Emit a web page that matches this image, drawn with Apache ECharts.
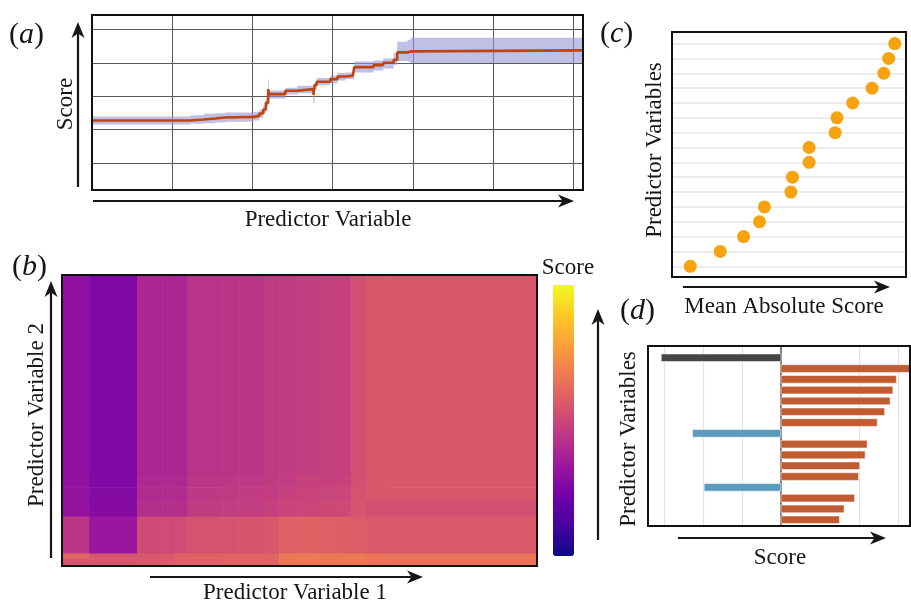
<!DOCTYPE html>
<html>
<head>
<meta charset="utf-8">
<script src="https://cdn.jsdelivr.net/npm/echarts@6/dist/echarts.min.js"></script>
<style>
html, body { margin: 0; padding: 0; background: #fff; }
#chart { width: 911px; height: 604px; }
</style>
</head>
<body>
<div id="chart"></div>
<script>
// (a) partial dependence curve: step positions, mean score, uncertainty band
const pdX  = [0, 1.227, 1.394, 1.537, 1.657, 2.015, 2.086, 2.134, 2.167, 2.196, 2.206, 2.41, 2.56, 2.76, 2.775, 2.80, 2.97, 3.06, 3.16, 3.25, 3.27, 3.51, 3.63, 3.76, 3.805, 3.934, 3.972, 6.12];
const pdY  = [2.08, 2.11, 2.14, 2.17, 2.19, 2.22, 2.29, 2.41, 2.61, 3.02, 2.87, 2.97, 3.02, 2.85, 3.14, 3.24, 3.32, 3.40, 3.42, 3.39, 3.68, 3.74, 3.81, 3.90, 4.12, 4.15, 4.18, 4.18];
const pdLo = [1.96, 1.98, 2.0, 2.02, 2.04, 2.08, 2.16, 2.30, 2.50, 2.70, 2.74, 2.86, 2.9, 2.6, 3.0, 3.14, 3.2, 3.28, 3.32, 3.3, 3.52, 3.58, 3.64, 3.74, 3.86, 3.84, 3.80, 3.80];
const pdHi = [2.2, 2.24, 2.28, 2.3, 2.32, 2.34, 2.4, 2.52, 2.74, 3.3, 2.98, 3.06, 3.12, 3.18, 3.2, 3.35, 3.42, 3.5, 3.52, 3.5, 3.85, 3.88, 3.94, 4.1, 4.44, 4.5, 4.56, 4.56];
const pdGridY = [0.81, 1.81, 2.81, 3.81, 4.81];

// (b) two-variable partial dependence: cell edges and scores (rows bottom-up)
const hmX = [0, 5.7, 15.8, 21.1, 23.8, 26.3, 33.7, 37.1, 42.5, 45.7, 49.5, 54.3, 58.5, 60.8, 64.0, 69.1, 100];
const hmY = [0, 2.7, 4.5, 17.2, 22.7, 27.1, 31.3, 100];
const hmVals = [
  [0.55, 0.55, 0.555, 0.565, 0.585, 0.585, 0.59, 0.59, 0.595, 0.66, 0.665, 0.66, 0.66, 0.665, 0.655, 0.645],
  [0.60, 0.55, 0.555, 0.565, 0.585, 0.585, 0.59, 0.59, 0.595, 0.66, 0.665, 0.66, 0.66, 0.665, 0.655, 0.645],
  [0.44, 0.33, 0.515, 0.515, 0.52, 0.54, 0.545, 0.55, 0.555, 0.585, 0.59, 0.585, 0.58, 0.575, 0.565, 0.565],
  [0.315, 0.275, 0.415, 0.415, 0.415, 0.46, 0.465, 0.47, 0.48, 0.49, 0.5, 0.505, 0.51, 0.545, 0.53, 0.53],
  [0.31, 0.27, 0.405, 0.405, 0.405, 0.45, 0.455, 0.46, 0.47, 0.48, 0.49, 0.495, 0.5, 0.54, 0.555, 0.555],
  [0.305, 0.265, 0.395, 0.395, 0.395, 0.44, 0.445, 0.45, 0.46, 0.47, 0.48, 0.48, 0.485, 0.535, 0.555, 0.555],
  [0.30, 0.26, 0.385, 0.385, 0.385, 0.43, 0.435, 0.44, 0.455, 0.46, 0.47, 0.475, 0.475, 0.53, 0.555, 0.555]
];

// (c) mean absolute score per predictor (bottom to top)
const impVals = [0.078, 0.206, 0.306, 0.374, 0.395, 0.508, 0.515, 0.586, 0.586, 0.697, 0.705, 0.772, 0.855, 0.905, 0.926, 0.952];

// (d) per-predictor score (top to bottom) and kind of bar
const shapVals = [-3.07, 3.4, 2.96, 2.87, 2.80, 2.66, 2.47, -2.27, 2.21, 2.16, 2.02, 1.99, -1.97, 1.89, 1.62, 1.50];
const shapKind = ['base', 'pos', 'pos', 'pos', 'pos', 'pos', 'pos', 'neg', 'pos', 'pos', 'pos', 'pos', 'neg', 'pos', 'pos', 'pos'];
const shapGridX = [-3, -2, -1, 2, 3];

const plasma = ['#0d0887', '#46039f', '#7201a8', '#9c179e', '#bd3786', '#d8576b', '#ed7953', '#fb9f3a', '#fdca26', '#f0f921'];
const kindColor = { base: '#454545', pos: '#c15b32', neg: '#5d9bbd' };
const FONT = '"Liberation Serif", "DejaVu Serif", serif';
const INK = '#161616';
const TS = 23;

const gA = { left: 92, top: 15, width: 491, height: 175 };
const gB = { left: 62, top: 275, width: 475, height: 291 };
const gC = { left: 672, top: 32, width: 234, height: 245 };
const gD = { left: 648, top: 346, width: 262, height: 180 };

const chart = echarts.init(document.getElementById('chart'));

function arrow(x1, y1, x2, y2) {
  const ang = Math.atan2(y2 - y1, x2 - x1);
  const L = 16, W = 6.5;
  const c = Math.cos(ang), s = Math.sin(ang);
  const bx = x2 - L * c, by = y2 - L * s;
  const nx = -s, ny = c;
  const notch = [x2 - 0.72 * L * c, y2 - 0.72 * L * s];
  return [
    { type: 'line', shape: { x1: x1, y1: y1, x2: notch[0], y2: notch[1] }, style: { stroke: INK, lineWidth: 2.2 }, z: 100 },
    { type: 'polygon', shape: { points: [[x2, y2], [bx + nx * W, by + ny * W], notch, [bx - nx * W, by - ny * W]] }, style: { fill: INK }, z: 100 }
  ];
}

function label(text, x, y, rot) {
  return {
    type: 'text', x: x, y: y, rotation: rot ? Math.PI / 2 : 0, z: 100,
    style: { text: text, fill: INK, font: TS + 'px ' + FONT, align: 'center', verticalAlign: 'middle' }
  };
}

function letter(ch, x, y) {
  return {
    type: 'text', x: x, y: y, z: 100,
    style: {
      text: '{p|(}{i|' + ch + '}{p|)}', align: 'left', verticalAlign: 'middle', fill: INK,
      rich: {
        p: { fontSize: 30, fontFamily: FONT, fill: INK },
        i: { fontSize: 30, fontFamily: FONT, fontStyle: 'italic', fill: INK }
      }
    }
  };
}

function frame(g) {
  return { type: 'rect', z: 100, shape: { x: g.left, y: g.top, width: g.width, height: g.height }, style: { fill: 'none', stroke: '#111', lineWidth: 2 } };
}

const hiddenAxis = { axisLine: { show: false }, axisTick: { show: false }, axisLabel: { show: false }, splitLine: { show: false } };

// heatmap cells
const hmData = [];
hmVals.forEach((row, r) => {
  row.forEach((v, c) => {
    hmData.push([hmX[c], hmX[c + 1], hmY[r], hmY[r + 1], v]);
  });
});

const option = {
  animation: false,
  backgroundColor: '#fff',
  grid: [
    Object.assign({ show: false }, gA),
    Object.assign({ show: false }, gB),
    Object.assign({ show: false }, gC),
    Object.assign({ show: false }, gD)
  ],
  xAxis: [
    Object.assign({}, hiddenAxis, { gridIndex: 0, type: 'value', min: 0, max: 6.12, interval: 1,
      splitLine: { show: true, lineStyle: { color: '#5a5a5a', width: 1 } } }),
    Object.assign({}, hiddenAxis, { gridIndex: 1, type: 'value', min: 0, max: 100 }),
    Object.assign({}, hiddenAxis, { gridIndex: 2, type: 'value', min: 0, max: 1 }),
    Object.assign({}, hiddenAxis, { gridIndex: 3, type: 'value', min: -3.41, max: 3.31 })
  ],
  yAxis: [
    Object.assign({}, hiddenAxis, { gridIndex: 0, type: 'value', min: 0, max: 5.24 }),
    Object.assign({}, hiddenAxis, { gridIndex: 1, type: 'value', min: 0, max: 100 }),
    Object.assign({}, hiddenAxis, { gridIndex: 2, type: 'value', min: 0.28, max: 16.78 }),
    Object.assign({}, hiddenAxis, { gridIndex: 3, type: 'value', min: -0.58, max: 16.09 })
  ],
  visualMap: {
    type: 'continuous',
    seriesIndex: 2,
    dimension: 4,
    min: 0,
    max: 1,
    calculable: false,
    hoverLink: false,
    left: 538,
    top: 270,
    itemWidth: 21,
    itemHeight: 271,
    inRange: { color: plasma }
  },
  series: [
    {
      // uncertainty band, drawn as one stepped polygon
      type: 'custom', xAxisIndex: 0, yAxisIndex: 0, silent: true, clip: true, z: 2,
      encode: { x: 0, y: [1, 2] },
      data: pdX.map((x, i) => [x, pdLo[i], pdHi[i]]),
      renderItem: function (params, api) {
        if (params.dataIndex !== 0) return null;
        const upper = [], lower = [];
        for (let i = 0; i < pdX.length - 1; i++) {
          upper.push(api.coord([pdX[i], pdHi[i]]), api.coord([pdX[i + 1], pdHi[i]]));
          lower.push(api.coord([pdX[i], pdLo[i]]), api.coord([pdX[i + 1], pdLo[i]]));
        }
        return {
          type: 'polygon',
          shape: { points: upper.concat(lower.reverse()) },
          style: { fill: 'rgba(150,150,215,0.6)' }
        };
      },
      markLine: {
        silent: true, symbol: 'none', z: 1, label: { show: false },
        lineStyle: { color: '#5a5a5a', width: 1, type: 'solid' },
        data: pdGridY.map(v => ({ yAxis: v }))
      }
    },
    {
      type: 'line', xAxisIndex: 0, yAxisIndex: 0, step: 'end', showSymbol: false, silent: true,
      data: pdX.map((x, i) => [x, pdY[i]]),
      lineStyle: { color: '#c1440e', width: 2.6 },
      z: 4
    },
    {
      type: 'custom', xAxisIndex: 1, yAxisIndex: 1, silent: true, clip: true,
      encode: { x: [0, 1], y: [2, 3] },
      data: hmData,
      renderItem: function (params, api) {
        const p0 = api.coord([api.value(0), api.value(3)]);
        const p1 = api.coord([api.value(1), api.value(2)]);
        return {
          type: 'rect',
          shape: { x: p0[0], y: p0[1], width: p1[0] - p0[0] + 0.6, height: p1[1] - p0[1] + 0.6 },
          style: { fill: api.visual('color') }
        };
      }
    },
    {
      type: 'scatter', xAxisIndex: 2, yAxisIndex: 2, silent: true,
      data: impVals.map((v, i) => [v, i + 1]),
      symbolSize: 13,
      itemStyle: { color: '#f7a20f', opacity: 1 },
      markLine: {
        silent: true, symbol: 'none', z: 1, label: { show: false },
        lineStyle: { color: '#ececec', width: 2, type: 'solid' },
        data: impVals.map((v, i) => ({ yAxis: i + 1 }))
      }
    },
    {
      type: 'custom', xAxisIndex: 3, yAxisIndex: 3, silent: true, clip: true,
      encode: { x: 0, y: 1 },
      data: shapVals.map((v, i) => [v, shapVals.length - 1 - i, i]),
      renderItem: function (params, api) {
        const v = api.value(0), r = api.value(1);
        const a = api.coord([0, r]);
        const b = api.coord([v, r]);
        const h = api.size([0, 0.71])[1];
        const kind = shapKind[api.value(2)];
        return {
          type: 'rect',
          shape: { x: Math.min(a[0], b[0]), y: a[1] - h / 2, width: Math.abs(b[0] - a[0]), height: h },
          style: { fill: kindColor[kind], stroke: 'rgba(255,255,255,0.55)', lineWidth: 1 }
        };
      },
      markLine: {
        silent: true, symbol: 'none', z: 1, label: { show: false },
        data: shapGridX.map(v => ({ xAxis: v, lineStyle: { color: '#e2e2e2', width: 1.2, type: 'solid' } }))
          .concat([{ xAxis: 0, lineStyle: { color: '#555', width: 1.5, type: 'solid' } }])
      }
    }
  ],
  graphic: [
    frame(gA), frame(gB), frame(gC), frame(gD),
    // panel (a)
    letter('a', 9, 35),
    ...arrow(78, 187, 78, 22),
    ...arrow(93, 201, 574, 201),
    label('Score', 66, 104, true),
    label('Predictor Variable', 328, 220, false),
    // panel (b)
    letter('b', 12, 267),
    ...arrow(51, 558, 51, 281),
    ...arrow(150, 577, 423, 577),
    ...arrow(598, 540, 598, 309),
    label('Predictor Variable 2', 37, 415, true),
    label('Predictor Variable 1', 295, 593, false),
    label('Score', 568, 268, false),
    // panel (c)
    letter('c', 600, 34),
    ...arrow(683, 287, 890, 287),
    label('Predictor Variables', 655, 150, true),
    label('Mean Absolute Score', 784, 307, false),
    // panel (d)
    letter('d', 620, 311),
    ...arrow(678, 538, 886, 538),
    label('Predictor Variables', 629, 439, true),
    label('Score', 780, 558, false)
  ]
};

chart.setOption(option);
</script>
</body>
</html>
